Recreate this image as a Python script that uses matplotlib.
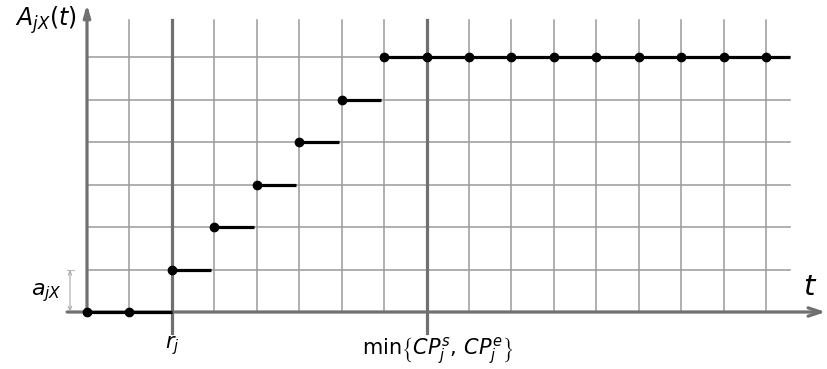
import matplotlib
matplotlib.use("Agg")
import matplotlib.pyplot as plt

# ---- data ----
step_starts = [0, 2, 3, 4, 5, 6, 7]
step_ends = [2, 2.93, 3.93, 4.93, 5.93, 6.93, 16.55]
step_values = [0, 1, 2, 3, 4, 5, 6]
dot_x = [0, 1, 2, 3, 4, 5, 6, 7, 8, 9, 10, 11, 12, 13, 14, 15, 16]
dot_y = [0, 0, 1, 2, 3, 4, 5, 6, 6, 6, 6, 6, 6, 6, 6, 6, 6]
grid_x = list(range(1, 17))
grid_y = list(range(1, 7))
marker_x = [2, 8]  # r_j and min{CP}
marker_labels = [r"$r_j$", r"$\mathrm{min}\left\{CP_j^s,\,CP_j^e\right\}$"]

plt.rcParams['mathtext.fontset'] = 'dejavusans'
fig = plt.figure(figsize=(8.28, 3.69), dpi=100)
ax = fig.add_axes([0, 0, 1, 1])
s = 42.45
ax.set_xlim(-87 / s, (828 - 87) / s)
ax.set_ylim((312 - 369) / s, 312 / s)
ax.axis('off')

top = 6.87
right = 16.55
gc = '#9a9a9a'
for gx in grid_x:
    ax.plot([gx, gx], [0, top], color=gc, lw=1.1, zorder=1)
for gy in grid_y:
    ax.plot([0, right], [gy, gy], color=gc, lw=1.1, zorder=1)

ac = '#707070'
for mx in marker_x:
    ax.plot([mx, mx], [-0.5, top], color=ac, lw=2.3, zorder=2)

# axes with arrows
ax.annotate('', xy=(17.4, 0), xytext=(-0.47, 0),
            arrowprops=dict(arrowstyle='->,head_length=0.9,head_width=0.3', color=ac, lw=2.3,
                            shrinkA=0, shrinkB=0), zorder=3)
ax.annotate('', xy=(0, 7.25), xytext=(0, 0),
            arrowprops=dict(arrowstyle='-|>,head_length=0.7,head_width=0.2', color=ac, lw=2.3,
                            shrinkA=0, shrinkB=0), zorder=3)

# a_jX dimension arrow
ax.annotate('', xy=(-0.4, 1), xytext=(-0.4, 0),
            arrowprops=dict(arrowstyle='<->,head_length=0.3,head_width=0.12', color='#aaaaaa', lw=0.8,
                            shrinkA=0, shrinkB=0), zorder=3)
ax.plot([-0.47, -0.3], [1, 1], color='#bbbbbb', lw=0.8)

# steps
for x0, x1, v in zip(step_starts, step_ends, step_values):
    ax.plot([x0, x1], [v, v], color='black', lw=2.3, solid_capstyle='butt', zorder=4)
ax.plot(dot_x, dot_y, 'o', color='black', ms=6, zorder=5)

# labels
ax.text(-0.98, 6.87, r"$A_{jX}\left(t\right)$", fontsize=17, ha='center', va='center')
ax.text(-0.95, 0.45, r"$a_{jX}$", fontsize=16, ha='center', va='center')
ax.text(17.04, 0.58, r"$t$", fontsize=21, ha='center', va='center')
ax.text(marker_x[0], -0.8, marker_labels[0], fontsize=15, ha='center', va='center')
ax.text(marker_x[1] + 0.25, -0.9, marker_labels[1], fontsize=15, ha='center', va='center')

fig.savefig('out.png', dpi=100)
